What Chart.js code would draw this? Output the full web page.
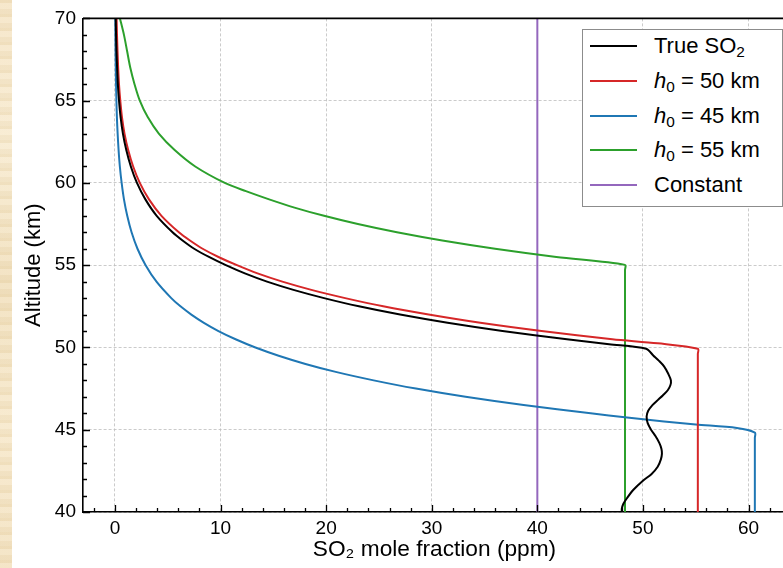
<!DOCTYPE html>
<html>
<head>
<meta charset="utf-8">
<title>Perfil de SO2</title>
<script src="https://cdn.jsdelivr.net/npm/chart.js@4.4.0/dist/chart.umd.min.js"></script>
<style>
  html, body { margin: 0; padding: 0; background: #fff; overflow: hidden; }
  body { width: 783px; height: 568px; position: relative; font-family: "Liberation Sans", Arial, sans-serif; }
  #papel {
    position: absolute; left: 0; top: 0; width: 12px; height: 568px; z-index: 2;
    background:
      repeating-linear-gradient(180deg, rgba(225,200,150,0.25) 0 3px, rgba(255,245,225,0.2) 3px 9px, rgba(230,210,170,0.2) 9px 14px),
      linear-gradient(180deg, #f4e4c6 0%, #f7ebd2 25%, #f0dfbd 50%, #f6e8cc 75%, #f2e1c1 100%);
  }
  #marco { position: absolute; left: 0; top: 0; width: 800px; height: 568px; }
  #leyenda {
    position: absolute; left: 582px; top: 29px; width: 201px; height: 178px; z-index: 3;
    box-sizing: border-box; border: 1.5px solid #8c8c8c; background: #fff;
  }
  .fila { position: absolute; left: 0; width: 100%; height: 34px; }
  .muestra { position: absolute; left: 7px; top: 16px; width: 47px; height: 2px; }
  .texto { position: absolute; left: 71px; top: 0; line-height: 34px; font-size: 22px; color: #000; white-space: nowrap; }
  .texto sub { font-size: 70%; vertical-align: -0.25em; line-height: 0; }
</style>
</head>
<body>
<div id="papel"></div>
<div id="marco"><canvas id="lienzo" width="800" height="568"></canvas></div>
<div id="leyenda"></div>

<script>
/* ===============================
   DATOS: fracción molar (ppm) vs altitud (km)
=============================== */
const ticksX = [0, 10, 20, 30, 40, 50, 60];
const ticksY = [40, 45, 50, 55, 60, 65, 70];

// Perfil verdadero de SO2
const so2Real = [0.07, 0.1, 0.14, 0.2, 0.27, 0.38, 0.53, 0.75, 1.07, 1.5, 2.08, 2.88, 3.95, 5.45, 6.4, 7.5, 8.9, 10.5, 12.3, 14.4, 16.9, 19.8, 23.1, 27.0, 31.5, 36.7, 42.8, 46.8, 50.3,
  51.0, 51.5, 52.0, 52.4, 52.65, 52.6, 52.35, 51.9, 51.4, 50.9, 50.5, 50.35, 50.45, 50.8, 51.2, 51.55, 51.75, 51.8, 51.7, 51.4, 50.8, 50.0, 49.1, 48.5, 48.15, 48.0, 48.0];
const altReal = [70, 69, 68, 67, 66, 65, 64, 63, 62, 61, 60, 59, 58, 57, 56.5, 56, 55.5, 55, 54.5, 54, 53.5, 53, 52.5, 52, 51.5, 51, 50.5, 50.2, 49.92,
  49.5, 49.2, 48.85, 48.4, 48.0, 47.7, 47.4, 47.1, 46.8, 46.5, 46.15, 45.8, 45.4, 44.97, 44.6, 44.2, 43.85, 43.55, 43.2, 42.75, 42.3, 41.9, 41.35, 40.85, 40.5, 40.2, 40.0];

// h0 = 50 km
const so2H50 = [0.15, 0.19, 0.24, 0.3, 0.38, 0.5, 0.66, 0.9, 1.25, 1.72, 2.35, 3.22, 4.4, 6.05, 7.1, 8.3, 9.8, 11.55, 13.5, 15.85, 18.6, 21.8, 25.4, 29.7, 34.6, 40.4, 47.1, 51.4, 55.2, 55.2, 55.2];
const altH50 = [70, 69, 68, 67, 66, 65, 64, 63, 62, 61, 60, 59, 58, 57, 56.5, 56, 55.5, 55, 54.5, 54, 53.5, 53, 52.5, 52, 51.5, 51, 50.5, 50.25, 49.92, 49.6, 40];

// h0 = 45 km
const so2H45 = [0.03, 0.04, 0.054, 0.073, 0.1, 0.135, 0.18, 0.25, 0.34, 0.46, 0.63, 0.85, 1.16, 1.57, 2.13, 2.9, 3.93, 5.33, 6.2, 7.23, 8.42, 9.8, 11.42, 13.3, 15.5, 18.04, 21.0, 24.5, 28.5, 33.2, 38.7, 45.05, 48.5, 52.0, 55.0, 58.9, 60.6, 60.6, 60.6];
const altH45 = [70, 69, 68, 67, 66, 65, 64, 63, 62, 61, 60, 59, 58, 57, 56, 55, 54, 53, 52.5, 52, 51.5, 51, 50.5, 50, 49.5, 49, 48.5, 48, 47.5, 47, 46.5, 46, 45.74, 45.5, 45.32, 45.11, 44.83, 44.5, 40];

// h0 = 55 km
const so2H55 = [0.47, 0.85, 1.15, 1.45, 1.85, 2.35, 3.1, 4.15, 5.65, 7.6, 10.4, 12.4, 14.6, 17.0, 19.8, 23.0, 26.7, 31.0, 36.0, 41.8, 48.3, 48.3, 48.3];
const altH55 = [70, 69, 68, 67, 66, 65, 64, 63, 62, 61, 60, 59.5, 59, 58.5, 58, 57.5, 57, 56.5, 56, 55.5, 55.02, 54.7, 40];

// Constante
const so2Const = [40, 40];
const altConst = [70, 40];

const etiquetas = ["True SO<sub>2</sub>", "<i>h</i><sub>0</sub> = 50 km", "<i>h</i><sub>0</sub> = 45 km", "<i>h</i><sub>0</sub> = 55 km", "Constant"];
const colores = ["#000000", "#d62728", "#1f77b4", "#2ca02c", "#9467bd"];

/* ===============================
   SERIES
=============================== */
const pares = (xs, ys) => xs.map((v, i) => ({ x: v, y: ys[i] }));
const series = [
  pares(so2Real, altReal),
  pares(so2H50, altH50),
  pares(so2H45, altH45),
  pares(so2H55, altH55),
  pares(so2Const, altConst),
];

const fuente = '"Liberation Sans", Arial, sans-serif';

/* marco superior y marcas hacia adentro (mayores y menores) */
const marcasInternas = {
  id: "marcasInternas",
  afterDraw(chart) {
    const { ctx, chartArea: a, scales: { x, y } } = chart;
    ctx.save();
    ctx.strokeStyle = "#000";
    ctx.lineWidth = 1.6;
    ctx.beginPath();
    ctx.moveTo(a.left, a.top);
    ctx.lineTo(a.right + 1, a.top);
    ctx.stroke();

    ctx.lineWidth = 1.3;
    ctx.beginPath();
    for (let v = -2; v <= x.max; v += 2) {
      const px = Math.round(x.getPixelForValue(v)) + 0.5;
      const largo = v % 10 === 0 ? 7 : 4;
      ctx.moveTo(px, a.bottom);
      ctx.lineTo(px, a.bottom - largo);
    }
    for (let v = 40; v <= 70; v++) {
      const py = Math.round(y.getPixelForValue(v)) + 0.5;
      const largo = v % 5 === 0 ? 7 : 4;
      ctx.moveTo(a.left, py);
      ctx.lineTo(a.left + largo, py);
    }
    ctx.stroke();
    ctx.restore();
  }
};

new Chart(document.getElementById("lienzo"), {
  type: "scatter",
  data: {
    datasets: series.map((d, i) => ({
      data: d,
      showLine: true,
      borderColor: colores[i],
      borderWidth: 2,
      pointRadius: 0,
      tension: i === 4 ? 0 : 0.3,
      fill: false,
    })),
  },
  options: {
    responsive: false,
    animation: false,
    layout: { padding: { top: 18, right: 14, left: 0, bottom: 0 } },
    plugins: { legend: { display: false }, tooltip: { enabled: false } },
    scales: {
      x: {
        type: "linear",
        min: -3.03,
        max: 63.55,
        afterBuildTicks: (s) => { s.ticks = ticksX.map((v) => ({ value: v })); },
        afterFit: (s) => { s.height = 56; },
        grid: { color: "rgba(190,190,190,0.8)", lineWidth: 1, drawTicks: false },
        border: { display: true, color: "#000", width: 1.6, dash: [3, 2] },
        ticks: { color: "#000", font: { size: 19, family: fuente }, padding: 5, maxRotation: 0, autoSkip: false },
        title: { display: true, text: "SO₂ mole fraction (ppm)", color: "#000", font: { size: 22.7, family: fuente }, padding: { top: 0, bottom: 5 } },
      },
      y: {
        type: "linear",
        min: 40,
        max: 70,
        afterBuildTicks: (s) => { s.ticks = ticksY.map((v) => ({ value: v })); },
        afterFit: (s) => { s.width = 83; },
        grid: { color: "rgba(190,190,190,0.8)", lineWidth: 1, drawTicks: false },
        border: { display: true, color: "#000", width: 1.6, dash: [3, 2] },
        ticks: { color: "#000", font: { size: 19, family: fuente }, padding: 7, autoSkip: false },
        title: { display: true, text: "Altitude (km)", color: "#000", font: { size: 22, family: fuente }, padding: { top: 21, bottom: 0 } },
      },
    },
  },
  plugins: [marcasInternas],
});

/* ===============================
   LEYENDA
=============================== */
const leyenda = document.getElementById("leyenda");
etiquetas.forEach((t, i) => {
  const fila = document.createElement("div");
  fila.className = "fila";
  fila.style.top = (-0.8 + i * 34.75) + "px";
  fila.innerHTML = `<span class="muestra" style="background:${colores[i]}"></span><span class="texto">${t}</span>`;
  leyenda.appendChild(fila);
});
</script>
</body>
</html>
